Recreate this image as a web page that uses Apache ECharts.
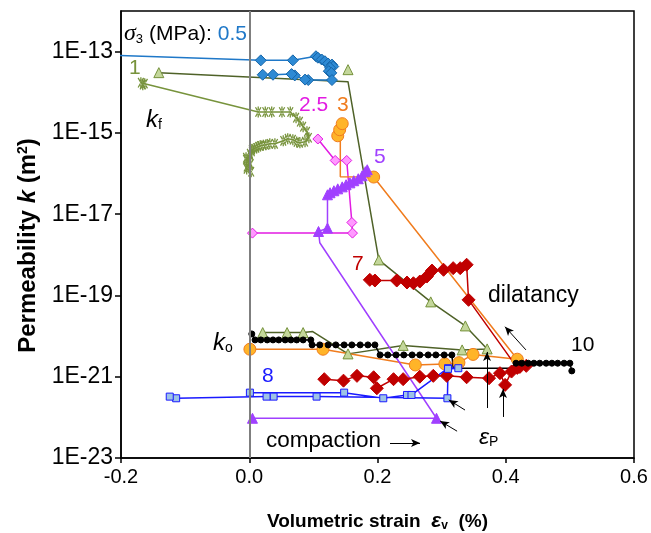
<!DOCTYPE html>
<html lang="en">
<head>
<meta charset="utf-8">
<title>Permeability vs volumetric strain</title>
<script src="https://cdn.jsdelivr.net/npm/echarts@6/dist/echarts.min.js"></script>
<style>
  html, body { margin: 0; padding: 0; background: #fff; }
  #main { width: 651px; height: 533px; }
</style>
</head>
<body>
<div id="main"></div>
<script>
// [volumetric strain (%), permeability k (m2)], one list per confining pressure
var sig05 = [[-0.25, 8.5e-14], [0.018, 6.1e-14], [0.068, 6.1e-14], [0.104, 7.7e-14], [0.107, 7.1e-14],
  [0.113, 6.4e-14], [0.118, 5.8e-14], [0.123, 5.1e-14], [0.129, 4.8e-14], [0.131, 4.3e-14], [0.126, 4.0e-14],
  [0.124, 3.3e-14], [0.128, 3.0e-14], [0.129, 2.0e-14], [0.092, 2.0e-14], [0.087, 2.05e-14], [0.071, 2.6e-14],
  [0.066, 2.8e-14], [0.037, 2.7e-14], [0.021, 2.7e-14]];
var sig1kf = [[0.003, 1.11e-16], [-0.004, 1.3e-16], [-0.004, 1.47e-16], [0.002, 1.7e-16], [0.0, 1.95e-16],
  [-0.005, 2.2e-16], [-0.005, 2.45e-16], [0.002, 2.8e-16], [0.001, 3.08e-16], [0.004, 3.5e-16], [0.004, 3.86e-16],
  [0.008, 4.1e-16], [0.011, 4.3e-16], [0.014, 4.6e-16], [0.017, 4.8e-16], [0.022, 5.0e-16], [0.026, 5.1e-16],
  [0.032, 5.4e-16], [0.040, 5.4e-16], [0.053, 6.4e-16], [0.060, 7.2e-16], [0.068, 6.8e-16], [0.074, 6.0e-16],
  [0.079, 5.7e-16], [0.087, 6.07e-16], [0.093, 7.6e-16], [0.090, 1.07e-15], [0.084, 1.42e-15], [0.079, 1.89e-15],
  [0.073, 2.37e-15], [0.064, 3.27e-15], [0.051, 3.27e-15], [0.035, 3.27e-15], [0.025, 3.27e-15], [0.014, 3.27e-15],
  [-0.163, 1.63e-14], [-0.166, 1.54e-14], [-0.169, 1.72e-14]];
var sig1 = [[0.021, 1.22e-20], [0.059, 1.22e-20], [0.084, 1.22e-20], [0.099, 1.29e-20], [0.154, 3.65e-21],
  [0.240, 5.9e-21], [0.332, 4.57e-21], [0.371, 4.84e-21], [0.337, 1.78e-20], [0.283, 6.95e-20], [0.202, 7.5e-19],
  [0.154, 1.82e-14], [-0.141, 3.04e-14]];
var sig1Extra = [[0.154, 3.6e-14]];
var sig25 = [[0.005, 3.42e-18], [0.161, 3.42e-18], [0.160, 6.25e-18], [0.152, 2.1e-16], [0.134, 2.1e-16],
  [0.107, 7.08e-16]];
var sig3 = [[0.001, 4.75e-21], [0.115, 4.75e-21], [0.259, 1.95e-21], [0.305, 2.07e-21], [0.327, 2.22e-21],
  [0.349, 3.54e-21], [0.418, 2.7e-21], [0.194, 8.2e-17], [0.142, 8.3e-17], [0.142, 8.05e-16], [0.138, 8.5e-16],
  [0.141, 1.2e-15], [0.145, 1.69e-15]];
var sig5 = [[0.005, 9.5e-23], [0.292, 9.5e-23], [0.110, 1.98e-18], [0.108, 3.75e-18], [0.122, 4.55e-18],
  [0.122, 3.0e-17], [0.126, 3.37e-17], [0.132, 3.77e-17], [0.138, 4.2e-17], [0.145, 4.7e-17], [0.151, 5.3e-17],
  [0.157, 5.9e-17], [0.163, 6.65e-17], [0.170, 7.45e-17], [0.176, 8.8e-17], [0.181, 1.11e-16], [0.184, 1.24e-16]];
var sig7 = [[0.117, 8.7e-22], [0.147, 8.0e-22], [0.168, 1.05e-21], [0.194, 9.7e-22], [0.199, 5.2e-22],
  [0.225, 8.7e-22], [0.240, 8.7e-22], [0.266, 1.0e-21], [0.287, 1.05e-21], [0.308, 1.05e-21], [0.339, 9.7e-22],
  [0.374, 9.2e-22], [0.391, 1.22e-21], [0.399, 6.3e-22], [0.409, 1.34e-21], [0.422, 1.74e-21], [0.432, 1.85e-21],
  [0.418, 1.65e-21], [0.342, 7.8e-20], [0.339, 5.7e-19], [0.329, 4.7e-19], [0.318, 4.7e-19], [0.303, 4.28e-19],
  [0.285, 4.1e-19], [0.277, 2.92e-19], [0.266, 2.2e-19], [0.256, 2.0e-19], [0.246, 2.08e-19], [0.230, 2.33e-19],
  [0.196, 2.33e-19], [0.188, 2.42e-19]];
var sig8 = [[0.001, 4.06e-22], [0.148, 4.06e-22], [0.209, 2.95e-22], [0.246, 3.56e-22], [0.253, 3.56e-22],
  [0.310, 1.62e-21], [0.326, 1.62e-21], [0.310, 1.56e-21], [0.309, 2.95e-22], [0.105, 3.24e-22], [0.038, 3.24e-22],
  [0.027, 3.24e-22], [-0.114, 2.95e-22], [-0.124, 3.24e-22]];
var sig10 = [[0.004, 1.13e-20], [0.009, 8.05e-21], [0.018, 8.05e-21], [0.028, 8.05e-21], [0.037, 8.05e-21],
  [0.046, 8.05e-21], [0.056, 8.05e-21], [0.065, 8.05e-21], [0.074, 8.05e-21], [0.084, 8.05e-21], [0.096, 8.05e-21],
  [0.098, 6.07e-21], [0.110, 6.07e-21], [0.123, 6.07e-21], [0.135, 6.07e-21], [0.148, 6.07e-21], [0.160, 6.07e-21],
  [0.173, 6.07e-21], [0.185, 6.07e-21], [0.196, 6.07e-21], [0.204, 3.44e-21], [0.216, 3.44e-21], [0.229, 3.44e-21],
  [0.241, 3.44e-21], [0.254, 3.44e-21], [0.266, 3.44e-21], [0.279, 3.44e-21], [0.291, 3.44e-21], [0.304, 3.44e-21],
  [0.316, 3.44e-21], [0.318, 1.62e-21], [0.407, 1.62e-21], [0.416, 2.15e-21], [0.425, 2.15e-21], [0.435, 2.15e-21],
  [0.444, 2.15e-21], [0.453, 2.15e-21], [0.463, 2.15e-21], [0.472, 2.15e-21], [0.481, 2.15e-21], [0.491, 2.15e-21],
  [0.500, 2.15e-21], [0.503, 1.39e-21]];

var kTicks = [1e-23, 1e-21, 1e-19, 1e-17, 1e-15, 1e-13];
var strainTicks = [-0.2, 0.0, 0.2, 0.4, 0.6];

var FONT = 'Liberation Sans';
var STAR = 'path://M-12,-100L12,-100L12,100L-12,100Z M40,93L60,81L-40,-93L-60,-81Z M60,-81L40,-93L-60,81L-40,93Z';

function lg(p) { return [p[0], Math.log10(p[1])]; }

function curve(pts, c) {
  var bare = c.bare || [];
  return {
    type: 'line', z: c.z || 3, silent: true, animation: false,
    symbol: c.symbol, symbolSize: c.size, symbolKeepAspect: true, showAllSymbol: true,
    lineStyle: { color: c.line, width: c.width || 1.5 },
    itemStyle: { color: c.fill, borderColor: c.border || c.fill, borderWidth: c.bw === undefined ? 1 : c.bw },
    data: pts.map(function (p, i) {
      return bare.indexOf(i) >= 0 ? { value: lg(p), symbol: 'none' } : lg(p);
    })
  };
}

// annotation arrows, in [strain, log10 k]
var arrows = [
  [[0.3708, -21.77], [0.3708, -20.39]],
  [[0.3957, -21.99], [0.3957, -21.30]],
  [[0.3365, -21.82], [0.3112, -21.57]],
  [[0.3241, -22.34], [0.2976, -22.09]],
  [[0.4315, -20.34], [0.3988, -19.77]],
  [[0.2195, -22.63], [0.2663, -22.63]]
];

var series = [
  curve(sig1kf, { symbol: STAR, size: 11, line: '#77933C', fill: '#77933C', bw: 0 }),
  curve(sig1, { symbol: 'triangle', size: 10, line: '#4F6228', fill: '#C4D79B', border: '#76923C', bare: [3, 11] }),
  curve(sig1Extra, { symbol: 'triangle', size: 10, line: '#4F6228', fill: '#C4D79B', border: '#76923C' }),
  curve(sig05, { symbol: 'diamond', size: 11, line: '#1F78C8', fill: '#2E8AD4', border: '#1565A8', bare: [0] }),
  curve(sig25, { symbol: 'diamond', size: 10, line: '#E21BE2', fill: '#FF99FF', border: '#E21BE2' }),
  curve(sig3, { symbol: 'circle', size: 12, line: '#F07C1E', fill: '#FFB428', border: '#F07C1E', bare: [8, 9] }),
  curve(sig5, { symbol: 'triangle', size: 10, line: '#A040FF', fill: '#A040FF', bare: [2] }),
  curve(sig7, { symbol: 'diamond', size: 13, line: '#C00000', fill: '#C00000' }),
  curve(sig10, { symbol: 'circle', size: 6, line: '#000000', fill: '#000000', bare: [30, 31] }),
  curve(sig8, { symbol: 'rect', size: 7, line: '#1A1AFF', fill: '#9DC3E6', border: '#1A1AFF' })
];

// gray zero-strain line
series.push({
  type: 'line', data: [], silent: true, z: 1, animation: false,
  markLine: {
    silent: true, symbol: 'none', label: { show: false }, animation: false,
    lineStyle: { color: '#7F7F7F', width: 2, type: 'solid' },
    data: [{ xAxis: 0 }]
  }
});
// arrows
series.push({
  type: 'line', data: [], silent: true, z: 5, animation: false,
  markLine: {
    silent: true, symbol: ['none', 'arrow'], symbolSize: [6, 9], label: { show: false }, animation: false,
    lineStyle: { color: '#000', width: 1, type: 'solid' },
    data: arrows.map(function (a) { return [{ coord: a[0] }, { coord: a[1] }]; })
  }
});

function txt(left, top, text, rich) {
  return { type: 'text', left: left, top: top, z: 100, silent: true, style: { text: text, rich: rich } };
}
function tok(size, color, extra) {
  var o = { fontFamily: FONT, fontSize: size, fill: color };
  for (var k in extra) o[k] = extra[k];
  return o;
}
var sub = function (s) { return tok(s, '#000', { verticalAlign: 'bottom', lineHeight: 8 }); };

var option = {
  animation: false,
  backgroundColor: '#fff',
  grid: {
    left: 121, right: 17, top: 11, bottom: 75, outerBoundsMode: 'none', containLabel: false,
    show: true, borderColor: '#000', borderWidth: 1.5
  },
  xAxis: {
    type: 'value', min: -0.2, max: 0.6, interval: 0.2,
    name: '{b|Volumetric strain  }{e|ε}{s|v}{b|  (%)}',
    nameLocation: 'middle', nameGap: 53,
    nameTextStyle: {
      rich: {
        b: { fontFamily: FONT, fontSize: 19, fontWeight: 'bold', color: '#000' },
        e: { fontFamily: FONT, fontSize: 21, fontWeight: 'bold', fontStyle: 'italic', color: '#000' },
        s: { fontFamily: FONT, fontSize: 12, fontWeight: 'bold', color: '#000', verticalAlign: 'bottom', lineHeight: 8 }
      }
    },
    axisLine: { onZero: false, lineStyle: { color: '#000', width: 1.5 } },
    axisTick: { inside: false, length: 5, customValues: strainTicks, lineStyle: { color: '#000', width: 1.5 } },
    axisLabel: {
      customValues: strainTicks, fontFamily: FONT, fontSize: 20, color: '#000', margin: 9,
      formatter: function (v) { return v.toFixed(1); }
    },
    splitLine: { show: false }
  },
  yAxis: {
    type: 'value', min: -23, max: -12,
    name: '{b|Permeability }{i|k}{b| (m}{p|2}{b|)}',
    nameLocation: 'middle', nameGap: 81,
    nameTextStyle: {
      padding: [0, 22, 0, 0],
      rich: {
        b: { fontFamily: FONT, fontSize: 24, fontWeight: 'bold', color: '#000' },
        i: { fontFamily: FONT, fontSize: 24, fontWeight: 'bold', fontStyle: 'italic', color: '#000' },
        p: { fontFamily: FONT, fontSize: 14, fontWeight: 'bold', color: '#000', verticalAlign: 'top', lineHeight: 8 }
      }
    },
    axisLine: { onZero: false, lineStyle: { color: '#000', width: 1.5 } },
    axisTick: { inside: false, length: 6, customValues: kTicks.map(Math.log10), lineStyle: { color: '#000', width: 1.5 } },
    axisLabel: {
      customValues: kTicks.map(Math.log10), fontFamily: FONT, fontSize: 23, color: '#000', margin: 8,
      formatter: function (v) { return '1E' + Math.round(v); }
    },
    splitLine: { show: false }
  },
  graphic: [
    txt(124, 22, '{s|σ}{u|3}{t| (MPa): }{c|0.5}', {
      s: tok(24, '#000', { fontFamily: 'Liberation Serif', fontStyle: 'italic' }),
      u: sub(13),
      t: tok(21, '#000'),
      c: tok(21, '#1F78C8')
    }),
    txt(129, 58, '{a|1}', { a: tok(21, '#77933C') }),
    txt(146, 108, '{k|k}{u|f}', { k: tok(24, '#000', { fontStyle: 'italic' }), u: sub(14) }),
    txt(299, 95, '{a|2.5}', { a: tok(21, '#E21BE2') }),
    txt(337, 95, '{a|3}', { a: tok(21, '#F07C1E') }),
    txt(374, 147, '{a|5}', { a: tok(21, '#A040FF') }),
    txt(352, 254, '{a|7}', { a: tok(21, '#C00000') }),
    txt(488, 284, '{a|dilatancy}', { a: tok(23, '#000') }),
    txt(571, 335, '{a|10}', { a: tok(21, '#000') }),
    txt(213, 331, '{k|k}{u|o}', { k: tok(24, '#000', { fontStyle: 'italic' }), u: sub(14) }),
    txt(262, 366, '{a|8}', { a: tok(21, '#1A1AFF') }),
    txt(266, 429, '{a|compaction}', { a: tok(22.5, '#000') }),
    txt(479, 426, '{e|ε}{u|P}', { e: tok(23, '#000', { fontStyle: 'italic' }), u: sub(14) })
  ],
  series: series
};

var chart = echarts.init(document.getElementById('main'));
chart.setOption(option);
</script>
</body>
</html>
